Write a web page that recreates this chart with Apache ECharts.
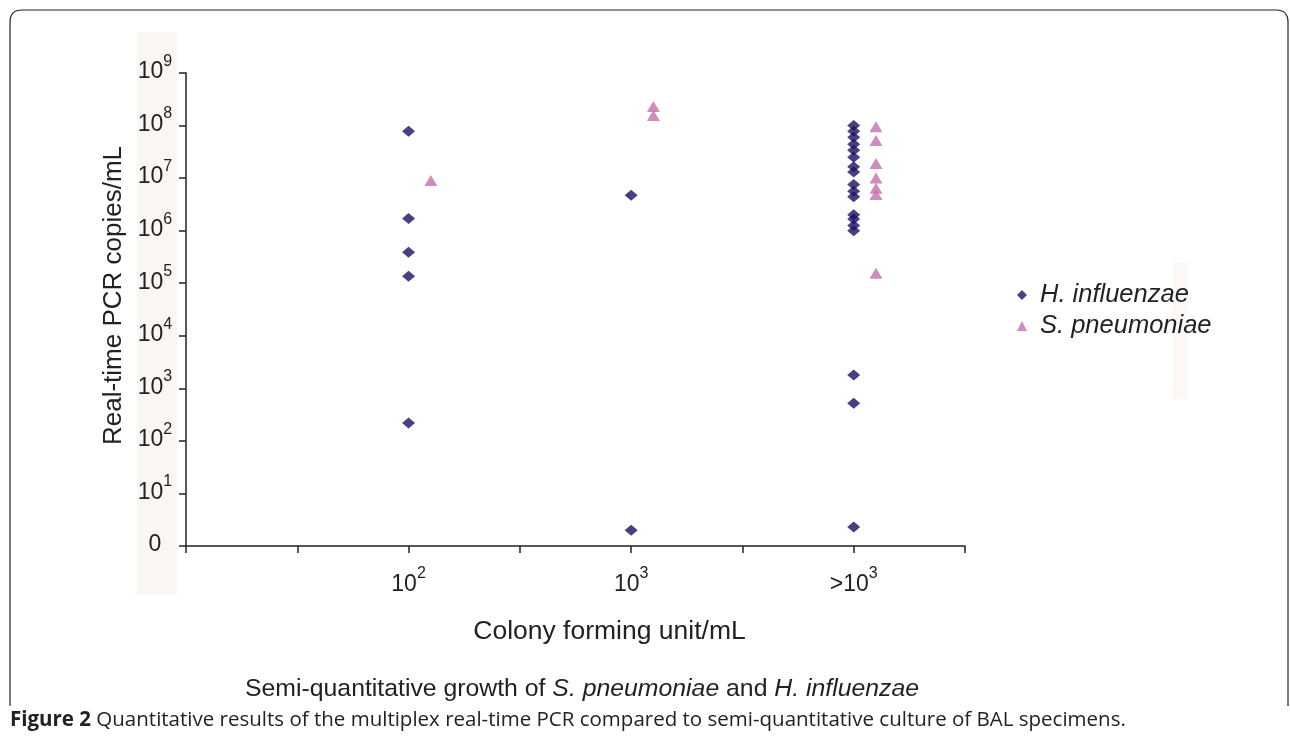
<!DOCTYPE html>
<html>
<head>
<meta charset="utf-8">
<title>Real-time PCR vs semi-quantitative culture</title>
<script src="https://cdn.jsdelivr.net/npm/echarts@6/dist/echarts.min.js"></script>
<style>
  html, body { margin: 0; padding: 0; background: #fff; }
  #main { width: 1290px; height: 740px; }
</style>
</head>
<body>
<div id="main"></div>
<script>
// culture groups (x axis), labels written as base + superscript
const groupBase = ['10', '10', '>10'];
const groupSup = ['2', '3', '3'];

// real-time PCR copies/mL, one list per culture group
const hInfluenzae = [
  [7.8e7, 1.7e6, 3.9e5, 1.35e5, 220],
  [4.7e6, 2],
  [1.0e8, 7.8e7, 6.0e7, 4.4e7, 3.4e7, 2.5e7, 1.65e7, 1.3e7,
   7.6e6, 5.6e6, 4.4e6, 2.0e6, 1.66e6, 1.26e6, 1.0e6, 1.8e3, 520, 2.3]
];
const sPneumoniae = [
  [9e6],
  [2.3e8, 1.55e8],
  [9.5e7, 5.2e7, 1.9e7, 1.0e7, 6.4e6, 4.9e6, 1.55e5]
];

const seriesNames = ['H. influenzae', 'S. pneumoniae'];

function toPoints(groups, shift) {
  let pts = [];
  groups.forEach((vals, i) => {
    vals.forEach((v) => pts.push([2 * (i + 1) + shift, v]));
  });
  return pts;
}

const chart = echarts.init(document.getElementById('main'));
const font = 'Liberation Sans, Arial, sans-serif';
// superscript sits at the top of a tall line, the base digits at its bottom
const sup = { fontSize: 16, fontFamily: font, color: '#222', verticalAlign: 'top', lineHeight: 16 };
const base = { fontSize: 23, fontFamily: font, color: '#222', verticalAlign: 'bottom', lineHeight: 30 };
const frame = { stroke: '#222', lineWidth: 1.2, fill: 'none' };

chart.setOption({
  animation: false,
  backgroundColor: '#fff',
  graphic: [
    // scan tint behind the y labels and the legend
    { type: 'rect', shape: { x: 137, y: 32, width: 40, height: 563 }, style: { fill: '#faf7f2' }, z: -10 },
    { type: 'rect', shape: { x: 1173, y: 262, width: 15, height: 137 }, style: { fill: '#fbf8f5' }, z: -10 },
    // figure frame
    { type: 'line', shape: { x1: 10, y1: 22, x2: 10, y2: 706 }, style: frame },
    { type: 'line', shape: { x1: 22, y1: 10, x2: 1276, y2: 10 }, style: frame },
    { type: 'line', shape: { x1: 1288, y1: 22, x2: 1288, y2: 706 }, style: frame },
    { type: 'bezierCurve', shape: { x1: 10, y1: 22, cpx1: 10, cpy1: 10, x2: 22, y2: 10 }, style: frame },
    { type: 'bezierCurve', shape: { x1: 1276, y1: 10, cpx1: 1288, cpy1: 10, x2: 1288, y2: 22 }, style: frame }
  ],
  title: [
    {
      left: 245, top: 677, padding: 0,
      text: 'Semi-quantitative growth of {i|S. pneumoniae} and {i|H. influenzae}',
      textStyle: {
        fontSize: 24.8, fontWeight: 'normal', fontFamily: font, color: '#222',
        rich: { i: { fontSize: 24.8, fontStyle: 'italic', fontFamily: font, color: '#222' } }
      }
    },
    {
      left: 10, top: 710, padding: 0,
      text: '{b|Figure 2} Quantitative results of the multiplex real-time PCR compared to semi-quantitative culture of BAL specimens.',
      textStyle: {
        fontSize: 20.5, fontWeight: 'normal', fontFamily: 'Open Sans, sans-serif', color: '#222',
        rich: { b: { fontSize: 20.5, fontWeight: 'bold', fontFamily: 'Open Sans, sans-serif', color: '#222' } }
      }
    }
  ],
  legend: {
    orient: 'vertical',
    left: 1012, top: 277,
    itemWidth: 10, itemHeight: 10, itemGap: 5,
    textStyle: { fontSize: 25.5, fontStyle: 'italic', fontFamily: font, color: '#222', padding: [0, 0, 0, 8] },
    data: seriesNames
  },
  grid: { left: 186, top: 73, right: 325, bottom: 194 },
  xAxis: {
    type: 'value',
    min: 0, max: 7, interval: 1,
    name: 'Colony forming unit/mL',
    nameLocation: 'middle',
    nameGap: 72,
    nameTextStyle: { fontSize: 26.5, fontFamily: font, color: '#222', padding: [0, 0, 0, 68] },
    axisLine: { lineStyle: { color: '#222', width: 1.5 } },
    axisTick: { show: true, length: 7, lineStyle: { color: '#222', width: 1.5 } },
    splitLine: { show: false },
    axisLabel: {
      margin: 20,
      formatter: function (v) {
        const i = v / 2 - 1;
        if (Number.isInteger(i) && i >= 0 && i < groupBase.length) {
          return '{b|' + groupBase[i] + '}{s|' + groupSup[i] + '}';
        }
        return '';
      },
      rich: { b: base, s: sup }
    }
  },
  yAxis: {
    type: 'log',
    logBase: 10,
    min: 1, max: 1e9,
    interval: 1,
    name: 'Real-time PCR copies/mL',
    nameLocation: 'middle',
    nameGap: 58,
    nameTextStyle: { fontSize: 26, fontFamily: font, color: '#222', padding: [0, 0, 0, 28] },
    axisLine: { show: true, lineStyle: { color: '#222', width: 1.5 } },
    axisTick: { show: true, length: 7, lineStyle: { color: '#222', width: 1.5 } },
    splitLine: { show: false },
    axisLabel: {
      margin: 31,
      align: 'center',
      padding: [0, 0, 9, 0],
      formatter: function (v) {
        const e = Math.round(Math.log10(v));
        if (e === 0) return '{b|0}';
        return '{b|10}{s|' + e + '}';
      },
      rich: { b: base, s: sup }
    }
  },
  series: [
    {
      name: seriesNames[0],
      type: 'scatter',
      symbol: 'diamond',
      symbolSize: [13, 11],
      itemStyle: { color: '#1a1262' },
      data: toPoints(hInfluenzae, 0)
    },
    {
      name: seriesNames[1],
      type: 'scatter',
      symbol: 'triangle',
      symbolSize: [13, 11],
      itemStyle: { color: '#c46fae' },
      data: toPoints(sPneumoniae, 0.2)
    }
  ]
});
</script>
</body>
</html>
